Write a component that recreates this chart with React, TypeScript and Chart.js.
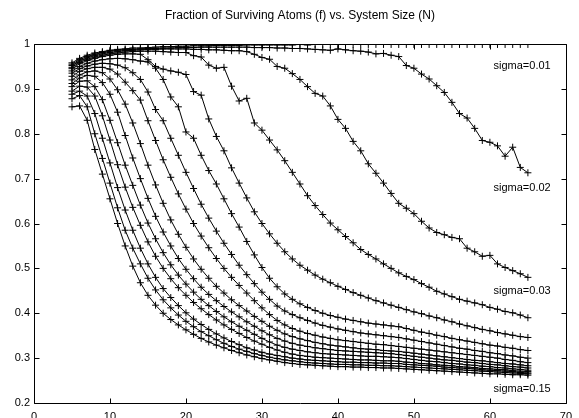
import React, { useEffect, useRef } from 'react';
import { Chart, registerables } from 'chart.js';

Chart.register(...registerables);

const chartTitle = 'Fraction of Surviving Atoms (f) vs. System Size (N)';

const nValues = [
  5, 6, 7, 8, 9, 10, 11, 12, 13, 14,
  15, 16, 17, 18, 19, 20, 21, 22, 23, 24,
  25, 26, 27, 28, 29, 30, 31, 32, 33, 34,
  35, 36, 37, 38, 39, 40, 41, 42, 43, 44,
  45, 46, 47, 48, 49, 50, 51, 52, 53, 54,
  55, 56, 57, 58, 59, 60, 61, 62, 63, 64,
  65,
];

const sigma001 = [
  0.958, 0.968, 0.975, 0.980, 0.983, 0.986, 0.988, 0.989, 0.991, 0.991,
  0.992, 0.993, 0.994, 0.994, 0.995, 0.995, 0.996, 0.996, 0.996, 0.997,
  0.997, 0.997, 0.997, 0.998, 0.998, 0.998, 0.998, 0.998, 0.998, 0.998,
  0.999, 0.998, 0.999, 0.999, 0.999, 0.999, 0.999, 0.999, 0.999, 0.999,
  0.999, 0.999, 0.999, 0.999, 0.999, 0.999, 0.999, 0.999, 0.999, 0.999,
  0.999, 0.999, 0.999, 0.999, 0.999, 0.999, 0.999, 0.999, 0.999, 0.999,
  0.999,
];
const sigma002 = [
  0.955, 0.965, 0.972, 0.977, 0.981, 0.984, 0.986, 0.987, 0.988, 0.989,
  0.990, 0.990, 0.991, 0.991, 0.992, 0.992, 0.992, 0.993, 0.993, 0.993,
  0.993, 0.993, 0.993, 0.993, 0.992, 0.992, 0.992, 0.991, 0.991, 0.990,
  0.990, 0.989, 0.988, 0.987, 0.986, 0.989, 0.987, 0.985, 0.984, 0.982,
  0.978, 0.979, 0.975, 0.972, 0.952, 0.946, 0.933, 0.922, 0.907, 0.892,
  0.870, 0.845, 0.835, 0.812, 0.785, 0.781, 0.773, 0.750, 0.770, 0.725,
  0.713,
];
const sigma003 = [
  0.952, 0.962, 0.969, 0.974, 0.978, 0.981, 0.983, 0.985, 0.986, 0.987,
  0.988, 0.988, 0.989, 0.989, 0.989, 0.989, 0.988, 0.988, 0.987, 0.987,
  0.986, 0.985, 0.985, 0.983, 0.977, 0.970, 0.966, 0.950, 0.946, 0.934,
  0.921, 0.905, 0.890, 0.884, 0.862, 0.832, 0.812, 0.783, 0.762, 0.733,
  0.712, 0.690, 0.667, 0.645, 0.634, 0.622, 0.605, 0.590, 0.580, 0.575,
  0.569, 0.566, 0.545, 0.537, 0.527, 0.529, 0.510, 0.502, 0.495, 0.488,
  0.480,
];
const sigma004 = [
  0.948, 0.959, 0.966, 0.971, 0.975, 0.978, 0.980, 0.982, 0.983, 0.984,
  0.984, 0.984, 0.983, 0.982, 0.981, 0.981, 0.974, 0.971, 0.953, 0.946,
  0.948, 0.906, 0.873, 0.879, 0.824, 0.808, 0.786, 0.764, 0.740, 0.714,
  0.688, 0.662, 0.640, 0.620, 0.601, 0.586, 0.571, 0.557, 0.542, 0.531,
  0.521, 0.510, 0.500, 0.490, 0.482, 0.475, 0.466, 0.458, 0.449, 0.443,
  0.437, 0.431, 0.427, 0.423, 0.419, 0.413, 0.409, 0.404, 0.401, 0.396,
  0.390,
];
const sigma005 = [
  0.945, 0.956, 0.963, 0.968, 0.972, 0.975, 0.977, 0.978, 0.978, 0.977,
  0.965, 0.950, 0.944, 0.940, 0.937, 0.932, 0.894, 0.886, 0.833, 0.794,
  0.762, 0.724, 0.690, 0.657, 0.626, 0.600, 0.577, 0.556, 0.537, 0.521,
  0.507, 0.496, 0.485, 0.476, 0.468, 0.460, 0.453, 0.446, 0.440, 0.434,
  0.428, 0.423, 0.418, 0.413, 0.408, 0.403, 0.399, 0.394, 0.390, 0.385,
  0.381, 0.376, 0.372, 0.368, 0.364, 0.361, 0.357, 0.354, 0.351, 0.348,
  0.346,
];
const sigma006 = [
  0.940, 0.950, 0.957, 0.962, 0.965, 0.967, 0.968, 0.967, 0.965, 0.962,
  0.960, 0.946, 0.921, 0.882, 0.860, 0.804, 0.790, 0.752, 0.718, 0.688,
  0.655, 0.622, 0.592, 0.560, 0.530, 0.502, 0.478, 0.459, 0.443, 0.431,
  0.421, 0.413, 0.406, 0.400, 0.395, 0.391, 0.387, 0.384, 0.381, 0.378,
  0.376, 0.374, 0.372, 0.370, 0.366, 0.362, 0.358, 0.355, 0.351, 0.348,
  0.344, 0.341, 0.338, 0.335, 0.332, 0.329, 0.327, 0.324, 0.322, 0.319,
  0.317,
];
const sigma007 = [
  0.935, 0.945, 0.951, 0.955, 0.957, 0.956, 0.953, 0.947, 0.936, 0.921,
  0.893, 0.854, 0.829, 0.790, 0.752, 0.714, 0.678, 0.643, 0.612, 0.583,
  0.556, 0.531, 0.507, 0.486, 0.466, 0.447, 0.431, 0.416, 0.405, 0.397,
  0.390, 0.384, 0.378, 0.373, 0.369, 0.365, 0.362, 0.359, 0.356, 0.354,
  0.352, 0.350, 0.348, 0.346, 0.343, 0.340, 0.337, 0.334, 0.331, 0.328,
  0.325, 0.322, 0.320, 0.317, 0.315, 0.312, 0.310, 0.307, 0.305, 0.302,
  0.300,
];
const sigma008 = [
  0.928, 0.939, 0.945, 0.948, 0.948, 0.944, 0.933, 0.915, 0.896, 0.875,
  0.829, 0.785, 0.742, 0.703, 0.666, 0.632, 0.600, 0.572, 0.546, 0.522,
  0.500, 0.480, 0.462, 0.445, 0.428, 0.412, 0.397, 0.384, 0.374, 0.366,
  0.360, 0.355, 0.351, 0.347, 0.344, 0.341, 0.339, 0.337, 0.335, 0.333,
  0.331, 0.330, 0.328, 0.326, 0.324, 0.322, 0.320, 0.318, 0.316, 0.314,
  0.312, 0.310, 0.308, 0.306, 0.304, 0.302, 0.300, 0.297, 0.295, 0.292,
  0.290,
];
const sigma009 = [
  0.920, 0.931, 0.938, 0.940, 0.936, 0.922, 0.898, 0.866, 0.824, 0.778,
  0.730, 0.686, 0.645, 0.608, 0.576, 0.547, 0.521, 0.498, 0.478, 0.460,
  0.445, 0.430, 0.417, 0.405, 0.393, 0.382, 0.371, 0.362, 0.354, 0.348,
  0.343, 0.339, 0.335, 0.332, 0.329, 0.327, 0.325, 0.323, 0.321, 0.320,
  0.319, 0.317, 0.316, 0.315, 0.313, 0.311, 0.309, 0.307, 0.305, 0.303,
  0.301, 0.299, 0.297, 0.295, 0.294, 0.292, 0.290, 0.288, 0.287, 0.285,
  0.283,
];
const sigma010 = [
  0.912, 0.924, 0.930, 0.928, 0.914, 0.888, 0.848, 0.796, 0.746, 0.700,
  0.656, 0.616, 0.581, 0.550, 0.522, 0.498, 0.477, 0.458, 0.442, 0.428,
  0.415, 0.403, 0.392, 0.381, 0.371, 0.361, 0.352, 0.344, 0.338, 0.333,
  0.329, 0.326, 0.323, 0.321, 0.319, 0.317, 0.316, 0.315, 0.314, 0.313,
  0.312, 0.311, 0.310, 0.308, 0.306, 0.304, 0.302, 0.300, 0.298, 0.296,
  0.295, 0.293, 0.291, 0.290, 0.288, 0.286, 0.285, 0.283, 0.281, 0.280,
  0.278,
];
const sigma011 = [
  0.905, 0.917, 0.918, 0.905, 0.876, 0.830, 0.780, 0.730, 0.685, 0.641,
  0.601, 0.566, 0.535, 0.508, 0.485, 0.465, 0.447, 0.431, 0.417, 0.404,
  0.392, 0.381, 0.371, 0.362, 0.353, 0.344, 0.336, 0.329, 0.324, 0.320,
  0.317, 0.314, 0.312, 0.310, 0.309, 0.308, 0.307, 0.306, 0.305, 0.304,
  0.304, 0.303, 0.302, 0.301, 0.299, 0.297, 0.295, 0.293, 0.292, 0.290,
  0.288, 0.287, 0.285, 0.284, 0.282, 0.281, 0.279, 0.278, 0.276, 0.275,
  0.273,
];
const sigma012 = [
  0.895, 0.906, 0.904, 0.884, 0.840, 0.786, 0.731, 0.681, 0.636, 0.596,
  0.559, 0.527, 0.500, 0.477, 0.457, 0.440, 0.424, 0.410, 0.397, 0.385,
  0.374, 0.364, 0.355, 0.346, 0.338, 0.331, 0.324, 0.318, 0.313, 0.309,
  0.306, 0.304, 0.302, 0.301, 0.300, 0.299, 0.298, 0.297, 0.296, 0.296,
  0.295, 0.294, 0.294, 0.293, 0.291, 0.290, 0.288, 0.287, 0.285, 0.284,
  0.283, 0.281, 0.280, 0.279, 0.277, 0.276, 0.275, 0.274, 0.272, 0.271,
  0.270,
];
const sigma013 = [
  0.888, 0.895, 0.884, 0.845, 0.790, 0.735, 0.680, 0.630, 0.585, 0.545,
  0.510, 0.480, 0.455, 0.435, 0.417, 0.401, 0.387, 0.375, 0.364, 0.354,
  0.345, 0.337, 0.330, 0.323, 0.318, 0.313, 0.309, 0.306, 0.303, 0.300,
  0.298, 0.296, 0.295, 0.294, 0.293, 0.292, 0.291, 0.291, 0.290, 0.290,
  0.289, 0.289, 0.288, 0.288, 0.286, 0.285, 0.284, 0.283, 0.282, 0.280,
  0.279, 0.278, 0.277, 0.276, 0.274, 0.273, 0.272, 0.271, 0.270, 0.268,
  0.267,
];
const sigma014 = [
  0.878, 0.885, 0.860, 0.800, 0.745, 0.690, 0.635, 0.585, 0.545, 0.510,
  0.478, 0.452, 0.430, 0.412, 0.396, 0.382, 0.370, 0.359, 0.350, 0.341,
  0.333, 0.326, 0.320, 0.315, 0.310, 0.306, 0.302, 0.299, 0.296, 0.294,
  0.292, 0.290, 0.289, 0.288, 0.287, 0.286, 0.286, 0.285, 0.285, 0.284,
  0.284, 0.283, 0.283, 0.282, 0.281, 0.280, 0.279, 0.278, 0.277, 0.276,
  0.275, 0.274, 0.273, 0.272, 0.271, 0.270, 0.269, 0.268, 0.267, 0.266,
  0.265,
];
const sigma015 = [
  0.860, 0.862, 0.830, 0.765, 0.710, 0.655, 0.600, 0.550, 0.505, 0.468,
  0.440, 0.418, 0.400, 0.386, 0.374, 0.363, 0.353, 0.344, 0.336, 0.329,
  0.323, 0.317, 0.312, 0.307, 0.303, 0.299, 0.296, 0.293, 0.290, 0.288,
  0.286, 0.285, 0.284, 0.283, 0.282, 0.281, 0.281, 0.280, 0.280, 0.279,
  0.279, 0.278, 0.278, 0.277, 0.276, 0.275, 0.274, 0.273, 0.272, 0.271,
  0.270, 0.269, 0.268, 0.267, 0.266, 0.265, 0.265, 0.264, 0.263, 0.263,
  0.262,
];

const sigmaNames = [
  '0.01', '0.02', '0.03', '0.04', '0.05', '0.06', '0.07', '0.08',
  '0.09', '0.10', '0.11', '0.12', '0.13', '0.14', '0.15',
];

const annotationTexts = ['sigma=0.01', 'sigma=0.02', 'sigma=0.03', 'sigma=0.15'];
const annotationX = [68, 68, 68, 68];
const annotationY = [0.951, 0.679, 0.45, 0.232];

const xMin = 0;
const xMax = 70;
const xStep = 10;
const yMin = 0.2;
const yMax = 1;
const yStep = 0.1;

const FONT = '"Liberation Sans", Arial, Helvetica, sans-serif';

export default function App() {
  const ref = useRef<HTMLCanvasElement | null>(null);

  useEffect(() => {
    document.body.style.margin = '0';
    const canvas = ref.current;
    if (!canvas) return;

    const seriesList = [
      sigma001, sigma002, sigma003, sigma004, sigma005,
      sigma006, sigma007, sigma008, sigma009, sigma010,
      sigma011, sigma012, sigma013, sigma014, sigma015,
    ];

    const framePlugin = {
      id: 'gnuplotFrame',
      afterDraw(chart: any) {
        const { ctx, chartArea: a, scales } = chart;
        const xs = scales.x;
        const ys = scales.y;
        ctx.save();
        ctx.strokeStyle = '#000';
        ctx.lineWidth = 1;
        const L = Math.round(a.left) + 0.5;
        const R = Math.round(a.right) + 0.5;
        const T = Math.round(a.top) + 0.5;
        const B = Math.round(a.bottom) + 0.5;
        ctx.beginPath();
        ctx.rect(L, T, R - L, B - T);
        ctx.stroke();
        const tl = 5;
        ctx.beginPath();
        xs.ticks.forEach((t: any) => {
          const px = Math.round(xs.getPixelForValue(t.value)) + 0.5;
          ctx.moveTo(px, B);
          ctx.lineTo(px, B - tl);
          ctx.moveTo(px, T);
          ctx.lineTo(px, T + tl);
        });
        ys.ticks.forEach((t: any) => {
          const py = Math.round(ys.getPixelForValue(t.value)) + 0.5;
          ctx.moveTo(L, py);
          ctx.lineTo(L + tl, py);
          ctx.moveTo(R, py);
          ctx.lineTo(R - tl, py);
        });
        ctx.stroke();

        ctx.fillStyle = '#000';
        ctx.font = `12px ${FONT}`;
        ctx.textAlign = 'center';
        ctx.textBaseline = 'middle';
        ctx.fillText(chartTitle, (a.left + a.right) / 2, 16);

        ctx.font = `11px ${FONT}`;
        ctx.textAlign = 'right';
        annotationTexts.forEach((txt, i) => {
          ctx.fillText(txt, xs.getPixelForValue(annotationX[i]), ys.getPixelForValue(annotationY[i]));
        });
        ctx.restore();
      },
    };

    const chart = new Chart(canvas, {
      type: 'line',
      data: {
        datasets: seriesList.map((s, i) => ({
          label: 'sigma=' + sigmaNames[i],
          data: nValues.map((n, j) => ({ x: n, y: s[j] })),
          borderColor: '#000',
          borderWidth: 1,
          pointStyle: 'cross',
          pointRadius: 3.5,
          pointBorderWidth: 1,
          pointBorderColor: '#000',
          pointBackgroundColor: '#000',
          fill: false,
          tension: 0,
        })),
      },
      options: {
        animation: false,
        responsive: false,
        devicePixelRatio: 1,
        layout: { padding: { top: 44, right: 4, left: 0, bottom: 0 } },
        plugins: {
          legend: { display: false },
          tooltip: { enabled: false },
          title: { display: false },
        },
        scales: {
          x: {
            type: 'linear',
            min: xMin,
            max: xMax,
            afterFit(s: any) { s.height = 15; },
            ticks: {
              stepSize: xStep,
              color: '#000',
              font: { family: FONT, size: 11 },
              padding: 7,
              maxRotation: 0,
              autoSkip: false,
            },
            grid: { display: false, drawTicks: false },
            border: { display: false },
          },
          y: {
            type: 'linear',
            min: yMin,
            max: yMax,
            afterFit(s: any) { s.width = 34; },
            ticks: {
              stepSize: yStep,
              color: '#000',
              font: { family: FONT, size: 11 },
              padding: 4,
              callback: (v: any) => String(Number(Number(v).toFixed(2))),
            },
            grid: { display: false, drawTicks: false },
            border: { display: false },
          },
        },
      },
      plugins: [framePlugin],
    } as any);

    return () => chart.destroy();
  }, []);

  return <canvas ref={ref} width={579} height={418} style={{ display: 'block' }} />;
}
